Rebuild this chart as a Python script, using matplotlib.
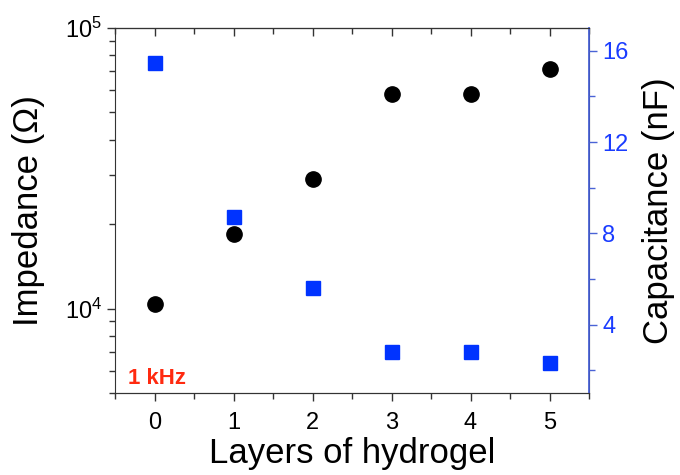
import matplotlib
matplotlib.use("Agg")
import matplotlib.pyplot as plt
from matplotlib.ticker import LogLocator, MultipleLocator, LogFormatterSciNotation, NullFormatter

plt.rcParams['font.family'] = ['Liberation Sans', 'DejaVu Sans']
plt.rcParams['mathtext.fontset'] = 'custom'
plt.rcParams['mathtext.rm'] = 'Liberation Sans'
plt.rcParams['mathtext.it'] = 'Liberation Sans'
plt.rcParams['mathtext.default'] = 'regular'

layers = [0, 1, 2, 3, 4, 5]
impedance = [10400, 18450, 28850, 58200, 58400, 71600]
capacitance = [15.46, 8.70, 5.60, 2.81, 2.81, 2.30]

blue_mark = '#0033ff'
blue_axis = '#4a63d6'
blue_text = '#1a3cff'
red_text = '#ff2a10'

fig = plt.figure(figsize=(6.8, 4.75), dpi=100)
ax = fig.add_axes([115/680, 1-393/475, (589-115)/680, (393-28)/475])
ax2 = ax.twinx()

ax.plot(layers, impedance, 'o', color='black', markersize=11, zorder=3)
ax.set_yscale('log')
ax.set_ylim(5000, 1e5)
ax.set_xlim(-0.5, 5.5)
ax.xaxis.set_major_locator(MultipleLocator(1))
ax.xaxis.set_minor_locator(MultipleLocator(0.5))
ax.yaxis.set_major_locator(LogLocator(base=10))
ax.yaxis.set_minor_locator(LogLocator(base=10, subs=range(2, 10)))
ax.yaxis.set_minor_formatter(NullFormatter())
ax.yaxis.set_major_formatter(LogFormatterSciNotation())

ax.tick_params(axis='x', which='both', direction='out', top=False, labelsize=17, width=1, color='#333333')
ax.tick_params(axis='x', which='major', length=6, pad=8)
ax.tick_params(axis='x', which='minor', length=4)
ax.tick_params(axis='y', which='major', direction='out', length=6, labelsize=17, width=1, color='#333333')
ax.tick_params(axis='y', which='minor', direction='out', length=4, width=1, color='#333333')

sec = ax.secondary_xaxis('top')
sec.xaxis.set_major_locator(MultipleLocator(1))
sec.xaxis.set_minor_locator(MultipleLocator(0.5))
sec.tick_params(which='both', direction='in', labeltop=False, width=1, color='#333333')
sec.tick_params(which='major', length=6)
sec.tick_params(which='minor', length=4)
sec.spines['top'].set_color('#333333')

ax2.plot(layers, capacitance, 's', color=blue_mark, markersize=9.5, zorder=3)
ax2.set_ylim(1, 17)
ax2.yaxis.set_major_locator(MultipleLocator(4))
ax2.yaxis.set_minor_locator(MultipleLocator(2))
ax2.tick_params(axis='y', which='major', direction='out', length=6, width=1, colors=blue_axis, labelcolor=blue_text, labelsize=17)
ax2.tick_params(axis='y', which='minor', direction='out', length=4, width=1, colors=blue_axis)
ax2.spines['right'].set_color(blue_axis)
ax2.spines['right'].set_linewidth(1.3)

for a in (ax, ax2):
    a.spines['left'].set_color('#333333')
    a.spines['bottom'].set_color('#333333')
    a.spines['top'].set_color('#333333')
ax2.spines['left'].set_visible(False)

ax.set_xlabel('Layers of hydrogel', fontsize=25, labelpad=2)
ax.set_ylabel('Impedance (Ω)', fontsize=25, labelpad=14)
ax2.set_ylabel('Capacitance (nF)', fontsize=25, labelpad=10)

ax.text(0.027, 0.012, '1 kHz', transform=ax.transAxes, color=red_text, fontsize=16, fontweight='bold', ha='left', va='bottom')

fig.savefig('out.png', dpi=100)
